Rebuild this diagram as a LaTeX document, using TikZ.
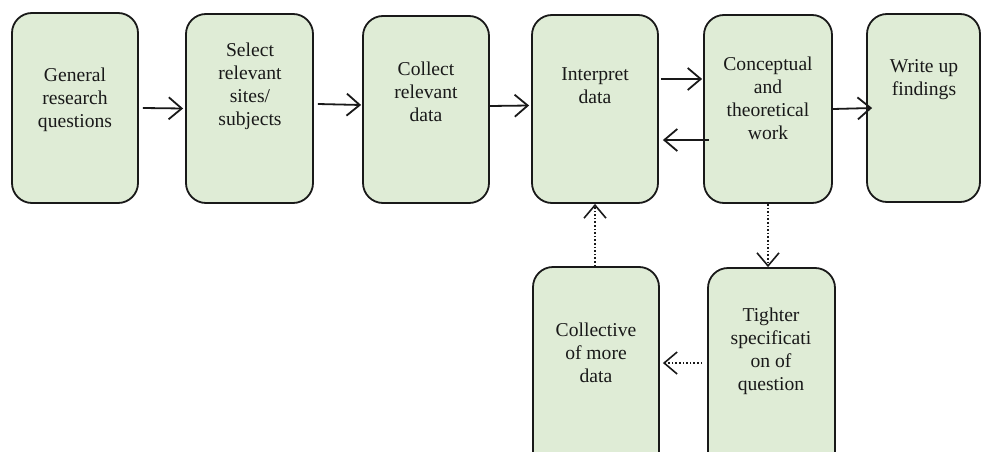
\documentclass[tikz,border=0pt]{standalone}
\usepackage{fontspec}
\setmainfont{Liberation Serif}
\usetikzlibrary{arrows.meta}
\definecolor{boxfill}{RGB}{223,236,214}
\definecolor{ink}{RGB}{25,25,25}
\tikzset{
  stepbox/.style={draw=ink, line width=1.8pt, fill=boxfill, rounded corners=20pt, inner sep=0pt},
  label text/.style={align=center, font=\fontsize{19.6}{23}\selectfont, text=ink, inner sep=0pt},
  arr/.style={draw=ink, line width=1.8pt, -{Straight Barb[length=13pt,width=22pt,line width=1.8pt]}},
  darr/.style={draw=ink, line width=1.6pt, dotted, -{Straight Barb[length=13pt,width=22pt,line width=1.6pt]}},
}
\begin{document}
\begin{tikzpicture}[x=1pt,y=-1pt]
\useasboundingbox (0,0) rectangle (982,452);
\clip (0,0) rectangle (982,452);
% boxes
\node[stepbox, minimum width=126pt, minimum height=190pt] (b1) at (75,108) {};
\node[stepbox, minimum width=127pt, minimum height=189pt] (b2) at (249.5,108.5) {};
\node[stepbox, minimum width=126pt, minimum height=187pt] (b3) at (426,109.5) {};
\node[stepbox, minimum width=126pt, minimum height=188pt] (b4) at (595,109) {};
\node[stepbox, minimum width=128pt, minimum height=188pt] (b5) at (768,109) {};
\node[stepbox, minimum width=113pt, minimum height=188pt] (b6) at (923.5,108) {};
\node[stepbox, minimum width=126pt, minimum height=220pt] (b7) at (596,377) {};
\node[stepbox, minimum width=127pt, minimum height=220pt] (b8) at (771.5,378) {};
% texts
\node[label text] (t1) at (75,100) {General\\research\\questions};
\node[label text] (t2) at (250,86) {Select\\relevant\\sites/\\subjects};
\node[label text] (t3) at (426,92) {Collect\\relevant\\data};
\node[label text] (t4) at (595,86) {Interpret\\data};
\node[label text] (t5) at (768,98) {Conceptual\\and\\theoretical\\work};
\node[label text] (t6) at (924,80) {Write up\\findings};
\node[label text] (t7) at (596,353) {Collective\\of more\\data};
\node[label text] (t8) at (771,351) {Tighter\\specificati\\on of\\question};
% solid arrows
\draw[arr] ([yshift=0pt,xshift=4pt]b1.east) -- ([yshift=0pt,xshift=-2pt]b2.west);
\draw[arr] ([yshift=4.5pt,xshift=4pt]b2.east) -- ([yshift=4.5pt,xshift=-1pt]b3.west);
\draw[arr] ([yshift=3.5pt]b3.east) -- ([yshift=3.5pt,xshift=-2pt]b4.west);
\draw[arr] ([yshift=30pt,xshift=2pt]b4.east) -- ([yshift=30pt,xshift=-1pt]b5.west);
\draw[arr] ([yshift=-31pt,xshift=6pt]b5.west) -- ([yshift=-31pt,xshift=4pt]b4.east);
\draw[arr] ([yshift=0pt]b5.east) -- ([yshift=0pt,xshift=6pt]b6.west);
% dotted arrows
\draw[darr] (b5.south) -- (b5.south |- b8.north);
\draw[darr] (b4.south |- b7.north) -- (b4.south);
\draw[darr] ([xshift=-5pt]b8.west |- 0,363) -- ([xshift=3pt]b7.east |- 0,363);
\end{tikzpicture}
\end{document}
